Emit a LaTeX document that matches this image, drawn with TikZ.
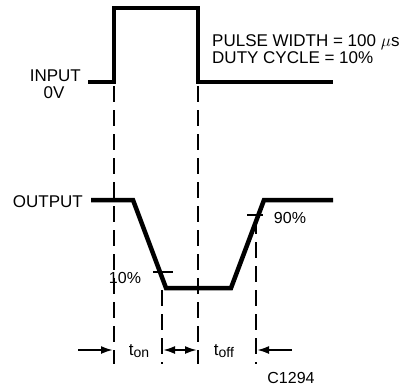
\documentclass[tikz,border=0pt]{standalone}
\usepackage{fontspec}
\setmainfont{Liberation Sans}
\usetikzlibrary{arrows.meta, positioning}
\def\labelsize{\fontsize{17}{17}\selectfont}
\def\subsize{\fontsize{14}{14}\selectfont}

\begin{document}
\begin{tikzpicture}[x=1pt,y=-1pt,line join=miter]
    \tikzstyle{wave}=[line width=4.5pt]
    \tikzstyle{guide}=[line width=2pt, dash pattern=on 16pt off 8pt]
    \tikzstyle{levelbar}=[line width=2.5pt]
    \tikzstyle{timing}=[line width=2pt, -{Latex[length=12pt,width=8pt]}]
    \tikzstyle{lbl}=[font=\labelsize, inner sep=0pt]
    \tikzstyle{pct}=[font=\fontsize{16}{16}\selectfont, inner sep=0pt]

    \useasboundingbox[fill=white] (0,0) rectangle (401,389);

    % input pulse
    \coordinate (in0) at (88,82);
    \coordinate (in1) at (114,82);
    \coordinate (in2) at (114,8);
    \coordinate (in3) at (198,8);
    \coordinate (in4) at (198,82);
    \coordinate (in5) at (333,82);
    \draw[wave] (in0) -- (in1) -- (in2) -- (in3) -- (in4) -- (in5);

    % output response
    \coordinate (out0) at (91,200);
    \coordinate (out1) at (133,200);
    \coordinate (out2) at (166,288);
    \coordinate (out3) at (231,288);
    \coordinate (out4) at (264,200);
    \coordinate (out5) at (333,200);
    \draw[wave] (out0) -- (out1) -- (out2) -- (out3) -- (out4) -- (out5);

    % 10% and 90% levels
    \coordinate (ten0) at (153,272);
    \coordinate (ten1) at (173,272);
    \coordinate (ninety0) at (247,215);
    \coordinate (ninety1) at (263,215);
    \draw[levelbar] (ten0) -- (ten1);
    \draw[levelbar] (ninety0) -- (ninety1);

    % dashed guides
    \coordinate (g1a) at (114,86);  \coordinate (g1b) at (114,364);
    \coordinate (g2a) at (198,86);  \coordinate (g2b) at (198,364);
    \coordinate (g3a) at (162,290); \coordinate (g3b) at (162,364);
    \coordinate (g4a) at (256,218); \coordinate (g4b) at (256,364);
    \draw[guide] (g1a) -- (g1b);
    \draw[guide] (g2a) -- (g2b);
    \draw[guide] (g3a) -- (g3b);
    \draw[guide] (g4a) -- (g4b);

    % timing arrows
    \coordinate (lt0) at (78,350);  \coordinate (lt1) at (113,350);
    \coordinate (md0) at (163,350); \coordinate (md1) at (197,350);
    \coordinate (rt0) at (292,350); \coordinate (rt1) at (257,350);
    \draw[timing] (lt0) -- (lt1);
    \draw[timing, {Latex[length=12pt,width=8pt]}-{Latex[length=12pt,width=8pt]}] (md0) -- (md1);
    \draw[timing] (rt0) -- (rt1);

    % labels
    \node[lbl, anchor=base east] (input) at (81,81) {INPUT};
    \node[lbl, anchor=base] (zerov) at (54,98) {0V};
    \node[lbl, anchor=base east] (output) at (83,207) {OUTPUT};
    \node[lbl, anchor=base west] (width) at (212,46) {PULSE WIDTH = 100 $\mu$s};
    \node[lbl, anchor=base west] (duty) at (212,63) {DUTY CYCLE = 10\%};
    \node[pct, anchor=base] (tenlbl) at (125,283) {10\%};
    \node[pct, anchor=base] (ninetylbl) at (290,223) {90\%};
    \node[lbl, anchor=base] (ton) at (139,355) {t\raisebox{-2pt}{\subsize on}};
    \node[lbl, anchor=base] (toff) at (224,355) {t\raisebox{-2pt}{\subsize off}};
    \node[pct, anchor=base] (code) at (291,383) {C1294};
\end{tikzpicture}
\end{document}
